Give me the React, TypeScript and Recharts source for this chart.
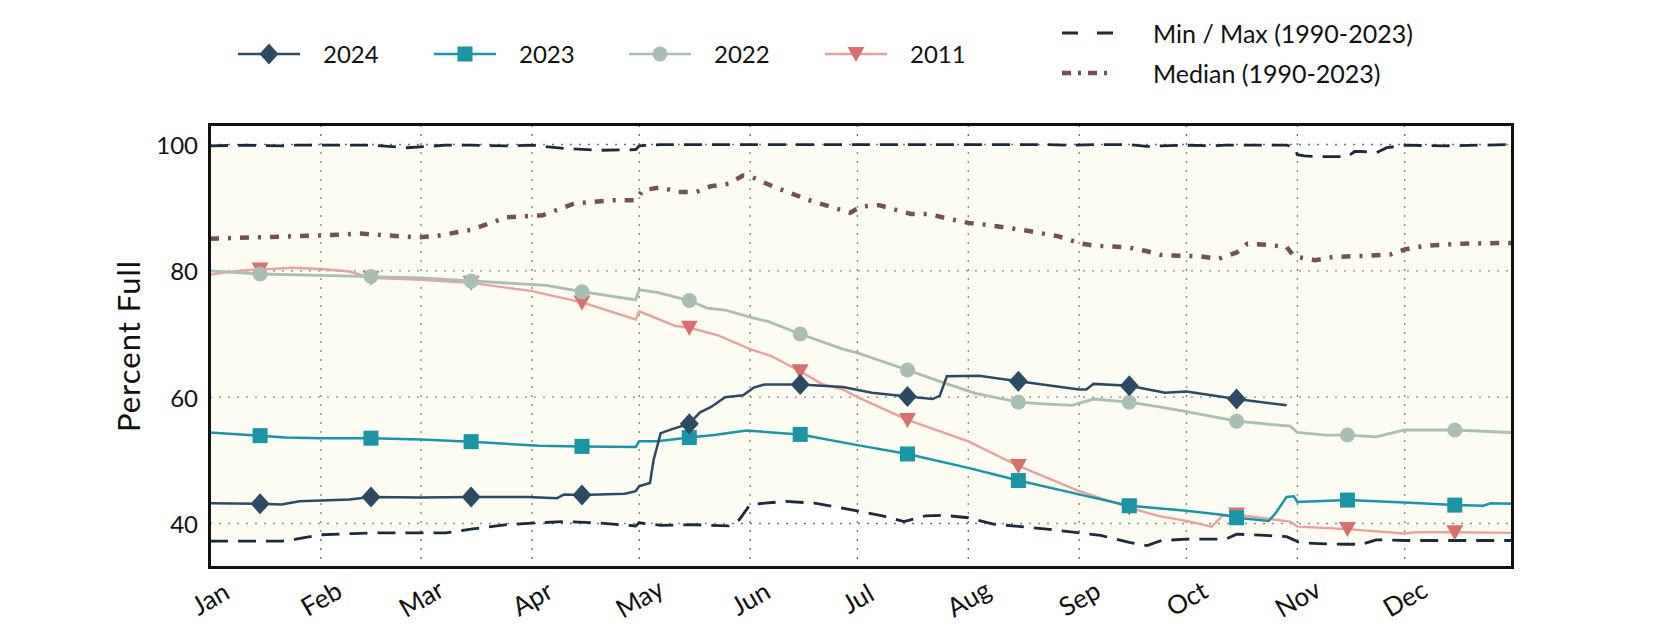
import React from "react";
import {
  ComposedChart,
  Line,
  Area,
  XAxis,
  YAxis,
  CartesianGrid,
} from "recharts";

// ─────────────────────────────────────────────────────────────────────────────
// Data (day of year, 0 = Jan 1)
// ─────────────────────────────────────────────────────────────────────────────

const MONTHS = ["Jan", "Feb", "Mar", "Apr", "May", "Jun", "Jul", "Aug", "Sep", "Oct", "Nov", "Dec"];
const MONTH_STARTS = [0, 31, 59, 90, 120, 151, 181, 212, 243, 273, 304, 334];
const Y_TICKS = [40, 60, 80, 100];
const MARKER_DAYS = [14, 45, 73, 104, 134, 165, 195, 226, 257, 287, 318, 348];

const DAYS_2024 = [0, 14, 20, 25, 39, 45, 59, 73, 89, 97, 99, 104, 116, 119, 120, 123, 124, 126, 129, 134, 137, 140, 144, 149, 152, 155, 165, 177, 185, 195, 202, 204, 206, 215, 226, 243, 245, 247, 257, 267, 273, 287, 301];
const VALUES_2024 = [43.2, 43.1, 43.0, 43.5, 43.8, 44.2, 44.1, 44.2, 44.2, 44.0, 44.6, 44.5, 44.7, 45.1, 45.9, 46.4, 50.0, 54.3, 54.9, 55.8, 57.6, 58.4, 60.0, 60.3, 61.5, 62.0, 62.0, 61.6, 60.7, 60.1, 59.7, 60.2, 63.3, 63.4, 62.5, 61.2, 61.2, 62.1, 61.8, 60.7, 60.9, 59.7, 58.7];

const DAYS_2023 = [0, 14, 21, 31, 45, 59, 73, 92, 104, 119, 120, 125, 134, 141, 150, 165, 181, 195, 212, 226, 243, 257, 273, 284, 287, 296, 298, 301, 303, 304, 318, 334, 348, 356, 358, 364];
const VALUES_2023 = [54.4, 53.9, 53.6, 53.5, 53.5, 53.3, 52.95, 52.3, 52.2, 52.1, 53.0, 53.0, 53.6, 54.0, 54.7, 54.1, 52.4, 51.0, 48.8, 46.8, 44.6, 42.8, 42.0, 41.3, 40.9, 40.4, 41.7, 44.2, 44.3, 43.4, 43.7, 43.3, 42.9, 42.8, 43.2, 43.1];

const DAYS_2022 = [0, 14, 31, 45, 59, 73, 94, 104, 119, 120, 125, 134, 139, 144, 152, 156, 165, 177, 181, 195, 204, 214, 226, 234, 241, 247, 257, 265, 273, 287, 302, 304, 312, 318, 326, 334, 348, 364];
const VALUES_2022 = [80.0, 79.5, 79.3, 79.1, 78.9, 78.4, 77.7, 76.7, 75.4, 77.0, 76.6, 75.3, 74.1, 73.8, 72.5, 72.0, 70.0, 67.6, 67.0, 64.3, 62.5, 60.6, 59.2, 58.9, 58.7, 59.7, 59.2, 58.5, 57.7, 56.2, 55.4, 54.4, 54.0, 54.0, 53.7, 54.8, 54.8, 54.4];

const DAYS_2011 = [0, 5, 9, 14, 23, 31, 39, 45, 59, 73, 90, 104, 119, 120, 130, 134, 142, 151, 157, 165, 171, 177, 181, 195, 212, 226, 243, 257, 265, 273, 280, 283, 287, 302, 304, 318, 334, 337, 348, 364];
const VALUES_2011 = [79.4, 79.8, 80.05, 80.2, 80.5, 80.3, 79.9, 78.9, 78.6, 78.1, 76.8, 75.0, 72.3, 73.6, 71.3, 71.0, 69.8, 67.6, 66.5, 64.1, 62.1, 61.2, 60.0, 56.4, 53.0, 49.1, 45.1, 42.5, 41.2, 40.4, 39.5, 41.2, 41.4, 40.3, 39.5, 39.1, 38.4, 38.6, 38.6, 38.5];

const BAND_DAYS = [0, 10, 20, 24, 31, 40, 45, 55, 66, 73, 83, 90, 99, 109, 119, 120, 126, 135, 145, 148, 151, 161, 169, 179, 188, 194, 200, 205, 212, 219, 234, 240, 249, 257, 262, 266, 273, 280, 284, 287, 295, 301, 303, 304, 306, 310, 318, 320, 322, 326, 329, 334, 345, 364];
const MIN_VALUES = [37.2, 37.2, 37.2, 37.5, 38.2, 38.4, 38.5, 38.5, 38.5, 39.1, 39.8, 40.05, 40.3, 40.05, 39.6, 40.1, 39.7, 39.8, 39.6, 40.6, 43.0, 43.5, 43.2, 42.2, 41.2, 40.3, 41.2, 41.3, 40.9, 39.9, 39.1, 38.7, 38.1, 37.0, 36.5, 37.3, 37.5, 37.5, 37.5, 38.3, 38.1, 37.9, 37.4, 37.1, 36.9, 36.8, 36.7, 36.7, 36.7, 37.4, 37.4, 37.3, 37.3, 37.3];
const MAX_VALUES = [99.8, 99.9, 99.8, 99.9, 99.9, 99.9, 99.9, 99.5, 99.9, 99.9, 99.8, 99.9, 99.4, 99.1, 99.2, 99.8, 100, 100, 100, 100, 100, 100, 100, 100, 100, 100, 100, 100, 100, 100, 100, 99.9, 100, 100, 99.7, 99.8, 99.9, 99.8, 99.9, 99.9, 99.9, 99.9, 99.6, 98.4, 98.2, 98.1, 98.1, 98.9, 98.9, 98.7, 99.5, 99.9, 99.8, 100];

const MEDIAN_DAYS = [0, 31, 42, 58, 63, 73, 83, 93, 102, 113, 119, 121, 126, 131, 136, 140, 145, 149, 151, 154, 159, 168, 179, 182, 187, 196, 201, 206, 212, 217, 227, 237, 243, 247, 257, 262, 266, 277, 282, 287, 290, 296, 301, 303, 309, 314, 324, 330, 334, 340, 350, 360, 364];
const MEDIAN_VALUES = [85.1, 85.6, 85.9, 85.3, 85.5, 86.5, 88.5, 88.8, 90.7, 91.2, 91.2, 92.8, 93.2, 92.5, 92.5, 93.4, 93.8, 95.1, 95.0, 94.2, 93.0, 91.1, 89.2, 90.2, 90.4, 89.0, 89.0, 88.3, 87.6, 87.3, 86.5, 85.5, 84.4, 84.0, 83.7, 83.1, 82.5, 82.3, 81.9, 82.9, 84.3, 84.1, 83.8, 82.3, 81.7, 82.2, 82.4, 82.6, 83.4, 84.0, 84.3, 84.4, 84.4];

// ─────────────────────────────────────────────────────────────────────────────
// Styling
// ─────────────────────────────────────────────────────────────────────────────

const C_2024 = "#2c4a62";
const C_2023 = "#1a94a7";
const C_2022 = "#a9bfb3";
const C_2011_LINE = "#e8a29e";
const C_2011_MARK = "#d8706f";
const C_MINMAX = "#1b2a3d";
const C_MEDIAN = "#765059";

const FONT = "Lato, 'Noto Sans', sans-serif";

const PLOT_LEFT = 210;
const PLOT_TOP = 125;
const PLOT_RIGHT = 1512;
const PLOT_BOTTOM = 567;

const toSeries = (days: number[], values: number[]) =>
  days.map((day, i) => ({ day, v: values[i] }));

const bandData = BAND_DAYS.map((day, i) => ({
  day,
  range: [MIN_VALUES[i], MAX_VALUES[i]],
  min: MIN_VALUES[i],
  max: MAX_VALUES[i],
}));

// ─────────────────────────────────────────────────────────────────────────────
// Marker shapes
// ─────────────────────────────────────────────────────────────────────────────

function Diamond({ cx, cy, color }: { cx: number; cy: number; color: string }) {
  return (
    <polygon
      points={`${cx},${cy - 10.5} ${cx + 9.5},${cy} ${cx},${cy + 10.5} ${cx - 9.5},${cy}`}
      fill={color}
    />
  );
}

function Square({ cx, cy, color }: { cx: number; cy: number; color: string }) {
  return <rect x={cx - 7.5} y={cy - 7.5} width={15} height={15} fill={color} />;
}

function Circle({ cx, cy, color }: { cx: number; cy: number; color: string }) {
  return <circle cx={cx} cy={cy} r={7.5} fill={color} />;
}

function TriDown({ cx, cy, color }: { cx: number; cy: number; color: string }) {
  return (
    <polygon
      points={`${cx - 8.5},${cy - 7} ${cx + 8.5},${cy - 7} ${cx},${cy + 8}`}
      fill={color}
    />
  );
}

const makeDot = (Shape: typeof Diamond, color: string) => (props: any) => {
  const { cx, cy, payload, index } = props;
  if (!MARKER_DAYS.includes(payload.day)) return <g key={`n${index}`} />;
  return (
    <g key={`d${index}`}>
      <Shape cx={cx} cy={cy} color={color} />
    </g>
  );
};

// ─────────────────────────────────────────────────────────────────────────────
// Ticks
// ─────────────────────────────────────────────────────────────────────────────

function MonthTick(props: any) {
  const { x, payload } = props;
  const idx = MONTH_STARTS.indexOf(payload.value);
  const ty = PLOT_BOTTOM + 31;
  return (
    <text
      x={x}
      y={ty}
      transform={`rotate(-30, ${x}, ${ty})`}
      textAnchor="middle"
      dominantBaseline="central"
      fontFamily={FONT}
      fontSize={26}
      fill="#111"
    >
      {MONTHS[idx]}
    </text>
  );
}

function ValueTick(props: any) {
  const { y, payload } = props;
  return (
    <text
      x={PLOT_LEFT - 12}
      y={y}
      textAnchor="end"
      dominantBaseline="central"
      fontFamily={FONT}
      fontSize={24}
      fill="#111"
    >
      {payload.value}
    </text>
  );
}

// ─────────────────────────────────────────────────────────────────────────────
// Legend
// ─────────────────────────────────────────────────────────────────────────────

function LegendIcon({ kind }: { kind: string }) {
  if (kind === "minmax") {
    return (
      <svg width={52} height={20}>
        <line x1={0} y1={10} x2={52} y2={10} stroke={C_MINMAX} strokeWidth={3} strokeDasharray="16 19" />
      </svg>
    );
  }
  if (kind === "median") {
    return (
      <svg width={52} height={20}>
        <line x1={0} y1={10} x2={52} y2={10} stroke={C_MEDIAN} strokeWidth={4.5} strokeDasharray="9 7 3 7" />
      </svg>
    );
  }
  const cfg: Record<string, { line: string; mark: string; Shape: typeof Diamond }> = {
    "2024": { line: C_2024, mark: C_2024, Shape: Diamond },
    "2023": { line: C_2023, mark: C_2023, Shape: Square },
    "2022": { line: C_2022, mark: C_2022, Shape: Circle },
    "2011": { line: C_2011_LINE, mark: C_2011_MARK, Shape: TriDown },
  };
  const c = cfg[kind];
  return (
    <svg width={62} height={26}>
      <line x1={0} y1={13} x2={62} y2={13} stroke={c.line} strokeWidth={2.5} />
      <c.Shape cx={31} cy={13} color={c.mark} />
    </svg>
  );
}

const LEGEND_YEARS = [
  { key: "2024", x: 238 },
  { key: "2023", x: 434 },
  { key: "2022", x: 629 },
  { key: "2011", x: 825 },
];

const LEGEND_REF = [
  { key: "minmax", label: "Min / Max (1990-2023)", y: 33 },
  { key: "median", label: "Median (1990-2023)", y: 73 },
];

// ─────────────────────────────────────────────────────────────────────────────
// Main chart
// ─────────────────────────────────────────────────────────────────────────────

export default function App() {
  return (
    <div
      style={{
        position: "fixed",
        left: 0,
        top: 0,
        width: 1680,
        height: 630,
        background: "#fff",
        fontFamily: FONT,
      }}
    >
      {/* Legend: years */}
      {LEGEND_YEARS.map((item) => (
        <div
          key={item.key}
          style={{ position: "absolute", left: item.x, top: 54 - 13, height: 26, display: "flex", alignItems: "center" }}
        >
          <LegendIcon kind={item.key} />
          <span style={{ marginLeft: 23, fontSize: 24, color: "#111", lineHeight: "26px" }}>{item.key}</span>
        </div>
      ))}

      {/* Legend: reference lines */}
      {LEGEND_REF.map((item) => (
        <div
          key={item.key}
          style={{ position: "absolute", left: 1062, top: item.y - 13, height: 26, display: "flex", alignItems: "center" }}
        >
          <LegendIcon kind={item.key} />
          <span style={{ marginLeft: 39, fontSize: 25, color: "#111", lineHeight: "26px", whiteSpace: "nowrap" }}>
            {item.label}
          </span>
        </div>
      ))}

      {/* Y axis title */}
      <div
        style={{
          position: "absolute",
          left: 128,
          top: (PLOT_TOP + PLOT_BOTTOM) / 2,
          transform: "translate(-50%, -50%) rotate(-90deg)",
          fontSize: 31,
          letterSpacing: 1,
          color: "#111",
          whiteSpace: "nowrap",
        }}
      >
        Percent Full
      </div>

      <ComposedChart
        width={1680}
        height={630}
        margin={{ top: PLOT_TOP, right: 1680 - PLOT_RIGHT, bottom: 0, left: 0 }}
      >
        <XAxis
          type="number"
          dataKey="day"
          domain={[0, 364]}
          ticks={MONTH_STARTS}
          interval={0}
          allowDataOverflow
          axisLine={false}
          tickLine={false}
          height={630 - PLOT_BOTTOM}
          tick={<MonthTick />}
        />
        <YAxis
          type="number"
          domain={[33.1, 103.1]}
          ticks={Y_TICKS}
          allowDataOverflow
          axisLine={false}
          tickLine={false}
          width={PLOT_LEFT}
          tick={<ValueTick />}
        />

        <Area
          data={bandData}
          dataKey="range"
          type="linear"
          stroke="none"
          fill="#f2f2c6"
          fillOpacity={0.22}
          isAnimationActive={false}
          activeDot={false}
        />

        <CartesianGrid stroke="#6f6f6f" strokeDasharray="2 7" strokeWidth={1.4} />

        <Line data={bandData} dataKey="max" type="linear" stroke={C_MINMAX} strokeWidth={2.8} strokeDasharray="18 10" dot={false} isAnimationActive={false} />
        <Line data={bandData} dataKey="min" type="linear" stroke={C_MINMAX} strokeWidth={2.8} strokeDasharray="18 10" dot={false} isAnimationActive={false} />
        <Line
          data={toSeries(MEDIAN_DAYS, MEDIAN_VALUES)}
          dataKey="v"
          type="linear"
          stroke={C_MEDIAN}
          strokeWidth={4.5}
          strokeDasharray="9 9 3 9"
          dot={false}
          isAnimationActive={false}
        />

        <Line
          data={toSeries(DAYS_2011, VALUES_2011)}
          dataKey="v"
          type="linear"
          stroke={C_2011_LINE}
          strokeWidth={2.4}
          dot={makeDot(TriDown, C_2011_MARK)}
          isAnimationActive={false}
        />
        <Line
          data={toSeries(DAYS_2022, VALUES_2022)}
          dataKey="v"
          type="linear"
          stroke={C_2022}
          strokeWidth={2.8}
          dot={makeDot(Circle, C_2022)}
          isAnimationActive={false}
        />
        <Line
          data={toSeries(DAYS_2023, VALUES_2023)}
          dataKey="v"
          type="linear"
          stroke={C_2023}
          strokeWidth={2.5}
          dot={makeDot(Square, C_2023)}
          isAnimationActive={false}
        />
        <Line
          data={toSeries(DAYS_2024, VALUES_2024)}
          dataKey="v"
          type="linear"
          stroke={C_2024}
          strokeWidth={2.5}
          dot={makeDot(Diamond, C_2024)}
          isAnimationActive={false}
        />
      </ComposedChart>

      {/* Plot frame */}
      <div
        style={{
          position: "absolute",
          left: PLOT_LEFT - 2,
          top: PLOT_TOP - 2,
          width: PLOT_RIGHT - PLOT_LEFT - 2,
          height: PLOT_BOTTOM - PLOT_TOP - 2,
          border: "3px solid #111",
          pointerEvents: "none",
        }}
      />
    </div>
  );
}
